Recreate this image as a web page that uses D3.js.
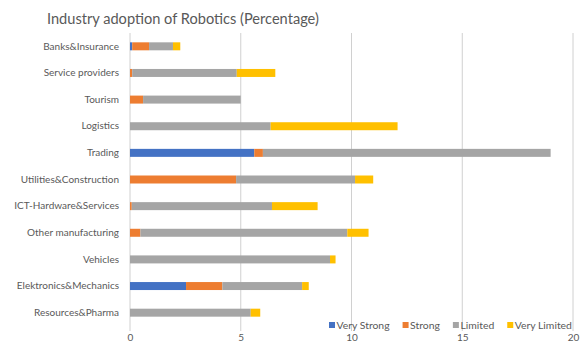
<!DOCTYPE html>
<html>
<head>
<meta charset="utf-8">
<script src="https://cdn.jsdelivr.net/npm/d3@7/dist/d3.min.js"></script>
<style>
  html, body { margin: 0; padding: 0; background: #fff; }
  svg text { font-family: Lato, "Open Sans", sans-serif; fill: #595959; }
</style>
</head>
<body>
<svg id="chart" width="583" height="344"></svg>
<script>
// Industries, listed top to bottom
const industries = [
  "Banks&Insurance", "Service providers", "Tourism", "Logistics", "Trading",
  "Utilities&Construction", "ICT-Hardware&Services", "Other manufacturing",
  "Vehicles", "Elektronics&Mechanics", "Resources&Pharma"
];
const seriesNames = ["Very Strong", "Strong", "Limited", "Very Limited"];
const veryStrong  = [0.10, 0.00, 0.00, 0.00, 5.61, 0.00, 0.00, 0.00, 0.00, 2.53, 0.00];
const strong      = [0.76, 0.10, 0.59, 0.00, 0.39, 4.79, 0.08, 0.47, 0.00, 1.64, 0.00];
const limited     = [1.08, 4.72, 4.41, 6.35, 12.99, 5.37, 6.33, 9.34, 9.03, 3.60, 5.45];
const veryLimited = [0.33, 1.74, 0.00, 5.73, 0.00, 0.82, 2.06, 0.96, 0.25, 0.30, 0.43];
const xTicks = [0, 5, 10, 15, 20];
const colors = ["#4472C4", "#ED7D31", "#A5A5A5", "#FFC000"];

const svg = d3.select("#chart");

const rows = industries.map((name, i) => ({
  name,
  "Very Strong": veryStrong[i],
  "Strong": strong[i],
  "Limited": limited[i],
  "Very Limited": veryLimited[i]
}));
const stacked = d3.stack().keys(seriesNames)(rows);

const x = d3.scaleLinear().domain([0, 20]).range([130, 573]);
const y = d3.scaleBand().domain(industries).range([33, 326]).paddingInner(0.7).paddingOuter(0.35);
const color = d3.scaleOrdinal().domain(seriesNames).range(colors);

// Title
svg.append("text")
  .attr("x", 47).attr("y", 24)
  .attr("font-size", 14.6)
  .attr("fill", "#404040")
  .text("Industry adoption of Robotics (Percentage)");

// Vertical gridlines
svg.append("g")
  .selectAll("line")
  .data(xTicks)
  .join("line")
  .attr("x1", d => x(d)).attr("x2", d => x(d))
  .attr("y1", 33).attr("y2", 331)
  .attr("stroke", "#d0d0d0")
  .attr("stroke-width", 1);

// X axis labels
const xAxis = d3.axisBottom(x).tickValues(xTicks).tickSize(0).tickPadding(0);
const gx = svg.append("g").attr("transform", "translate(0,334)").call(xAxis);
gx.select(".domain").remove();
gx.selectAll("text")
  .attr("font-size", 10)
  .attr("dy", "0.71em")
  .style("font-family", "Lato, 'Open Sans', sans-serif")
  .attr("fill", "#595959");

// Y axis labels
const yAxis = d3.axisLeft(y).tickSize(0).tickPadding(11);
const gy = svg.append("g").attr("transform", "translate(130,0)").call(yAxis);
gy.select(".domain").remove();
gy.selectAll("text")
  .attr("font-size", 10)
  .style("font-family", "Lato, 'Open Sans', sans-serif")
  .attr("fill", "#404040");

// Stacked bars
svg.append("g")
  .selectAll("g")
  .data(stacked)
  .join("g")
  .attr("fill", d => color(d.key))
  .selectAll("rect")
  .data(d => d)
  .join("rect")
  .attr("x", d => x(d[0]))
  .attr("y", d => y(d.data.name))
  .attr("width", d => Math.max(0, x(d[1]) - x(d[0])))
  .attr("height", y.bandwidth());

// Legend, laid out left to right from measured text widths
const legend = svg.append("g").attr("transform", "translate(329,325)");
let lx = 0;
seriesNames.forEach(name => {
  const item = legend.append("g").attr("transform", `translate(${lx},0)`);
  item.append("rect")
    .attr("x", 0).attr("y", -3)
    .attr("width", 6).attr("height", 6)
    .attr("fill", color(name));
  const t = item.append("text")
    .attr("x", 7.5).attr("y", 0)
    .attr("dy", "0.35em")
    .attr("font-size", 10.4)
    .text(name);
  lx += 7.5 + t.node().getComputedTextLength() + 13;
});
</script>
</body>
</html>
